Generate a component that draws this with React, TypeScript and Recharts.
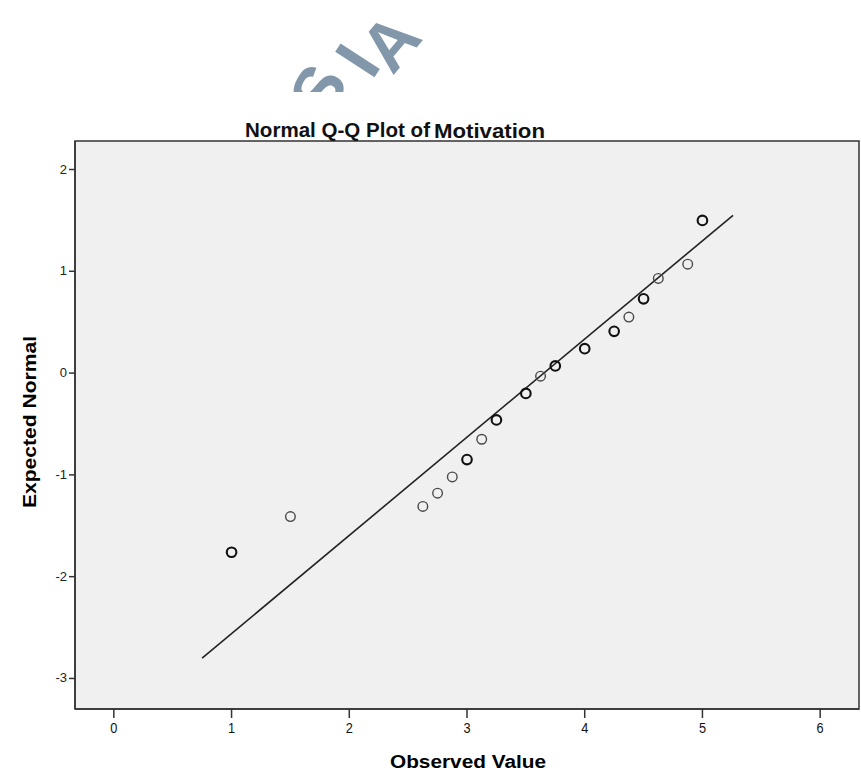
import React from 'react';
import { ScatterChart, Scatter, XAxis, YAxis, ReferenceArea } from 'recharts';

// Observed values (x) and expected normal values (y)
const heavyObserved = [1.0, 3.0, 3.25, 3.5, 3.75, 4.0, 4.25, 4.5, 5.0];
const heavyExpected = [-1.76, -0.85, -0.46, -0.2, 0.07, 0.24, 0.41, 0.73, 1.5];
const lightObserved = [1.5, 2.625, 2.75, 2.875, 3.125, 3.625, 4.375, 4.625, 4.875];
const lightExpected = [-1.41, -1.31, -1.18, -1.02, -0.65, -0.03, 0.55, 0.93, 1.07];
const lineObserved = [0.75, 5.26];
const lineExpected = [-2.8, 1.55];
const xTicks = [0, 1, 2, 3, 4, 5, 6];
const yTicks = [-3, -2, -1, 0, 1, 2];
const X_DOMAIN: [number, number] = [-0.33, 6.33];
const Y_DOMAIN: [number, number] = [-3.3, 2.28];

const zip = (xs: number[], ys: number[]) => xs.map((x, i) => ({ x, y: ys[i] }));
const heavyData = zip(heavyObserved, heavyExpected);
const lightData = zip(lightObserved, lightExpected);
const lineData = zip(lineObserved, lineExpected);

const AXIS = '#333333';
const SANS = '"Liberation Sans", Arial, sans-serif';
const WM = '#8397ab';

const circle = (stroke: string, w: number) => (props: any) => (
  <circle cx={props.cx} cy={props.cy} r={4.8} fill="none" stroke={stroke} strokeWidth={w} />
);

const XTick = (props: any) => {
  const { x, y, payload } = props;
  return (
    <g transform={`translate(${x},${y})`}>
      <text x={0} y={0} dy={13} textAnchor="middle" fontFamily={SANS} fontSize={15} fill="#111"
        transform="scale(0.85,1)">{payload.value}</text>
    </g>
  );
};

const YTick = (props: any) => {
  const { x, y, payload } = props;
  return (
    <text x={x} y={y} dy={4} textAnchor="end" fontFamily={SANS} fontSize={13} fill="#222">{payload.value}</text>
  );
};

const YTitle = (props: any) => {
  const vb = props.viewBox || {};
  const cx = 30;
  const cy = vb.y + vb.height / 2 - 3;
  return (
    <text x={cx} y={cy} transform={`rotate(-90 ${cx} ${cy})`} textAnchor="middle" dominantBaseline="central"
      fontFamily={SANS} fontWeight="bold" fontSize={18} fill="#000" textLength={172}
      lengthAdjust="spacingAndGlyphs">Expected Normal</text>
  );
};

const XTitle = (props: any) => {
  const vb = props.viewBox || {};
  return (
    <text x={vb.x + vb.width / 2 + 1} y={762} textAnchor="middle" dominantBaseline="central"
      fontFamily={SANS} fontWeight="bold" fontSize={18} fill="#000" textLength={156}
      lengthAdjust="spacingAndGlyphs">Observed Value</text>
  );
};

export default function App() {
  return (
    <div style={{ position: 'absolute', left: 0, top: 0, width: 861, height: 777, background: '#fff' }}>
      <ScatterChart width={861} height={777} margin={{ top: 141, right: 2, bottom: 0, left: 0 }}>
        <ReferenceArea x1={X_DOMAIN[0]} x2={X_DOMAIN[1]} y1={Y_DOMAIN[0]} y2={Y_DOMAIN[1]}
          fill="#f0f0f0" fillOpacity={1} stroke={AXIS} strokeWidth={1.5} ifOverflow="visible" />
        <XAxis type="number" dataKey="x" domain={X_DOMAIN} ticks={xTicks} allowDataOverflow height={68}
          axisLine={{ stroke: AXIS, strokeWidth: 1.5 }} tickLine={{ stroke: AXIS, strokeWidth: 1.5 }} tickSize={9}
          tick={<XTick />} label={<XTitle />} />
        <YAxis type="number" dataKey="y" domain={Y_DOMAIN} ticks={yTicks} allowDataOverflow width={75}
          axisLine={{ stroke: AXIS, strokeWidth: 1.5 }} tickLine={{ stroke: AXIS, strokeWidth: 1.5 }} tickSize={6}
          tick={<YTick />} label={<YTitle />} />
        <Scatter data={lineData} line={{ stroke: '#222', strokeWidth: 1.6 }} shape={() => null}
          isAnimationActive={false} />
        <Scatter data={lightData} shape={circle('#4a4a4a', 1.4)} isAnimationActive={false} />
        <Scatter data={heavyData} shape={circle('#111', 2.1)} isAnimationActive={false} />
      </ScatterChart>
      <svg width={861} height={150} style={{ position: 'absolute', left: 0, top: 0, pointerEvents: 'none' }}>
        <defs>
          <clipPath id="wmclip"><rect x={0} y={0} width={861} height={92} /></clipPath>
        </defs>
        <g fontFamily={SANS} fontWeight="bold" fontSize={68} fill={WM}>
          <g clipPath="url(#wmclip)">
            <text x={318} y={90} textAnchor="middle" dominantBaseline="central" transform="rotate(-62 318 90)">S</text>
          </g>
          <text x={357} y={60} textAnchor="middle" dominantBaseline="central" transform="rotate(-57 357 60)">I</text>
          <text x={390} y={42} textAnchor="middle" dominantBaseline="central" transform="rotate(-50 390 42)">A</text>
        </g>
        <text x={245} y={137} fontFamily={SANS} fontWeight="bold" fontSize={20} fill="#111" textLength={185}
          lengthAdjust="spacingAndGlyphs">Normal Q-Q Plot of</text>
        <text x={434} y={138} fontFamily={SANS} fontWeight="bold" fontSize={20} fill="#111" textLength={111}
          lengthAdjust="spacingAndGlyphs">Motivation</text>
      </svg>
    </div>
  );
}
